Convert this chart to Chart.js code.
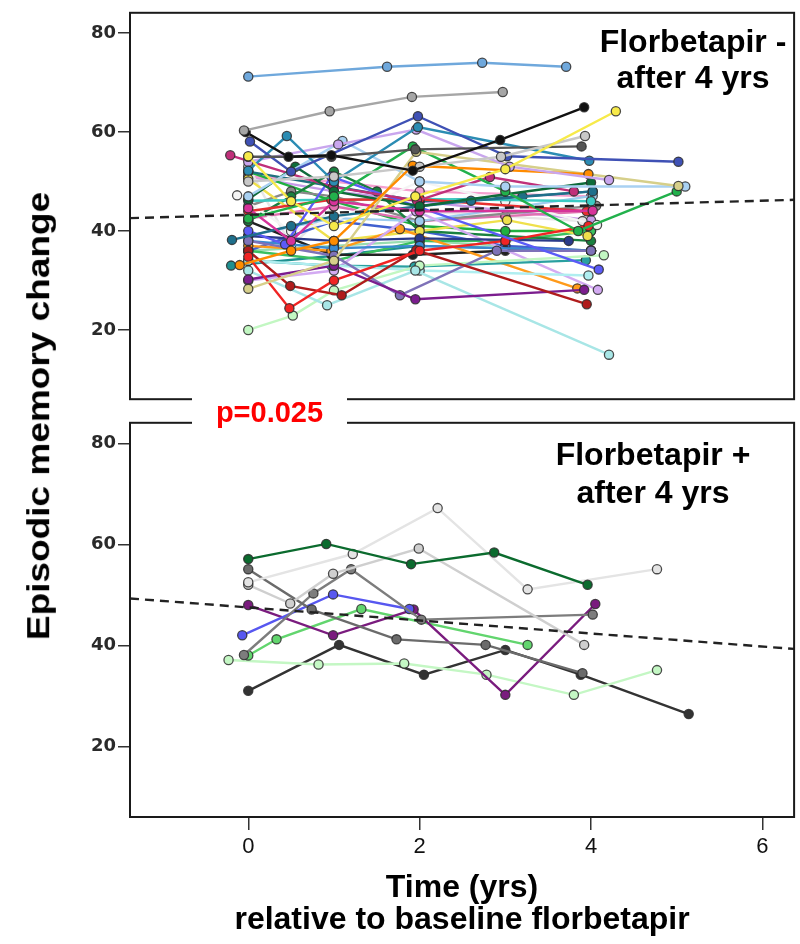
<!DOCTYPE html>
<html>
<head>
<meta charset="utf-8">
<script src="https://cdn.jsdelivr.net/npm/chart.js@4.4.1/dist/chart.umd.min.js"></script>
<style>
  body { margin: 0; background: #fff; width: 800px; height: 944px; position: relative; overflow: hidden; font-family: "Liberation Sans", Arial, sans-serif; }
  #top-wrap { position: absolute; left: 0; top: 0; width: 800px; height: 412px; }
  #bot-wrap { position: absolute; left: 0; top: 410px; width: 800px; height: 534px; }
  #y-title { position: absolute; left: 38px; top: 416px; transform: translate(-50%, -50%) rotate(-90deg) scaleY(0.87); white-space: nowrap; font: bold 37px "Liberation Sans", Arial, sans-serif; line-height: 1; color: #000; }
  #p-label { position: absolute; left: 192px; top: 398px; width: 155px; height: 28px; background: #fff; color: #ff0000; text-align: center; font: bold 29px "Liberation Sans", Arial, sans-serif; line-height: 28px; }
</style>
</head>
<body>
<div id="top-wrap"><canvas id="top-chart" width="800" height="412"></canvas></div>
<div id="bot-wrap"><canvas id="bot-chart" width="800" height="534"></canvas></div>
<div id="y-title">Episodic memory change</div>
<div id="p-label">p=0.025</div>
<script>
// Florbetapir negative: one entry per subject (years, score)
const negTimes = [
  [0, 1.62, 2.73, 3.71],
  [-0.05, 0.95, 1.91, 2.97],
  [-0.03, 0.47, 0.97, 1.92, 2.94, 3.92],
  [0, 0.5, 1.0, 1.95, 3.0, 4.29],
  [0, 1.0, 2.0, 2.95, 3.93],
  [0, 0.97, 1.95, 3.89],
  [0.02, 0.5, 1.98, 3.02, 5.02],
  [0, 0.45, 1.0, 1.98, 3.98],
  [0, 1.05, 1.96, 3.05, 4.21],
  [-0.1, 0.5, 1.0, 1.92, 3.97],
  [0, 1.0, 1.96, 5.02],
  [0, 1.1, 2.0, 3.0, 5.1],
  [0, 1.0, 1.92, 3.0, 3.85, 5.0],
  [0, 0.55, 1.0, 2.0, 4.0],
  [-0.21, 0.99, 1.97, 2.82, 3.8],
  [0, 0.5, 1.0, 2.0, 4.02],
  [-0.19, 0.5, 1.0, 2.0, 2.6, 4.02],
  [0, 0.43, 0.97, 4.09],
  [0, 0.48, 1.0, 2.0, 3.0, 3.97],
  [0, 0.49, 1.09, 1.96, 3.95],
  [0, 0.97, 2.0, 3.95],
  [0, 1.0, 1.95, 3.92],
  [0, 1.0, 1.77, 2.9, 4.0],
  [0, 0.92, 1.95, 4.21],
  [0, 0.52, 1.0, 2.0, 4.15],
  [0, 1.0, 2.0, 3.97],
  [0, 1.0, 2.0, 4.0],
  [0, 1.0, 2.0, 4.0],
  [0, 0.97, 1.94, 3.94],
  [0, 1.0, 2.0, 3.74],
  [-0.13, 0.5, 1.0, 2.0, 3.0, 4.07],
  [0, 1.0, 1.96, 4.08],
  [0, 0.97, 1.77, 3.84],
  [0, 1.0, 2.0, 3.02, 3.96],
  [0, 0.5, 1.0, 1.5, 2.0, 4.0],
  [0, 0.97, 1.92, 3.0, 4.0],
  [0, 1.0, 2.0, 3.0, 4.0],
  [0, 1.0, 2.0, 4.02],
  [0, 1.0, 2.0, 3.2, 4.02],
  [0, 1.0, 2.0, 3.0, 4.0],
  [0, 0.5, 1.0, 2.0, 4.06],
  [0, 1.0, 2.0, 3.0, 4.0],
  [0, 1.0, 2.0, 3.0, 4.0],
  [0, 0.5, 1.0, 2.0, 3.9],
  [0, 1.0, 2.0, 4.0],
  [-0.2, 1.0, 2.0, 4.0],
  [0, 1.0, 2.0, 3.0, 4.0],
  [0, 1.0, 2.0, 4.0]
];
const negScores = [
  [71.2, 73.2, 74, 73.2],
  [60.3, 64.2, 67.1, 68.1],
  [60, 55, 55.3, 52.2, 58.4, 65],
  [55.1, 46, 41, 47, 52.5, 64.2],
  [50, 51, 53, 55, 59.2],
  [55, 55, 56.5, 57.1],
  [58.1, 52, 63.2, 55.1, 54],
  [52.2, 59.2, 50, 61, 54.2],
  [54, 57.5, 60.5, 53, 50.3],
  [33.1, 36, 38, 53.2, 51.5],
  [28.3, 34, 56, 49.1],
  [47, 58.2, 50, 49, 49],
  [42.5, 47, 57.1, 48, 40, 48],
  [46.4, 53, 48, 45, 49.8],
  [55.3, 48.9, 46.1, 50.9, 48],
  [44.6, 38, 46, 44, 44.1],
  [38.2, 41, 43, 45, 46.1, 48],
  [40, 37.3, 51, 32.2],
  [34.8, 24.4, 30, 36, 38, 41],
  [36, 28.9, 27, 36.1, 25.2],
  [44, 46.3, 46.4, 44],
  [30.2, 33, 26.2, 28.1],
  [38, 35, 27, 36, 36],
  [32, 25, 32, 15],
  [20, 22.9, 28, 33, 35.1],
  [34, 33, 32, 31],
  [46.1, 46.3, 46.5, 46],
  [38, 36.5, 37, 36],
  [34, 33, 32.8, 34.1],
  [39, 38, 38.5, 38],
  [47.2, 40, 42, 50, 46, 41.2],
  [30, 32, 44, 28.1],
  [37, 36, 40.4, 28.4],
  [50.5, 38, 40, 42.2, 39],
  [42, 47, 52, 48, 40, 38],
  [42, 35.2, 35.2, 36, 36],
  [36, 34, 38, 38, 40],
  [39, 42.6, 42, 47.1],
  [52, 49, 46, 47, 48],
  [36, 42, 40, 37, 36],
  [45, 48, 47, 42, 45.1],
  [42.5, 45, 42, 43, 44],
  [52, 46, 41, 40, 40],
  [53, 37, 45, 44, 42],
  [51, 50, 48, 47],
  [33, 35, 37, 36],
  [36, 37, 38, 37, 36],
  [51, 48, 46, 42.2]
];
const negColors = [
  '#6fa8dc', '#a6a6a6', '#111111', '#f7ea4a', '#c8c8c8', '#555555', '#3f51b5', '#2b8cb3',
  '#c9a6ee', '#ff8c00', '#d6cf8a', '#a9d1f2', '#22b14c', '#0e6b3a', '#c0307a', '#d6339a',
  '#1f6f8b', '#5b5bf7', '#f02424', '#b01c1c', '#e53030', '#7b1d8e', '#7e72b8', '#a8e6e6',
  '#c2f7c2', '#b0eef0', '#3ccbc3', '#3a8ad0', '#2aa0a0', '#2a3a8a', '#f4f4f4', '#d3aaf2',
  '#ff9a1a', '#efe04c', '#1a8040', '#222222', '#3cc060', '#9ccbee', '#207080', '#4060d0',
  '#8a8a8a', '#e070b0', '#20b040', '#e6e6e6', '#f5a0d0', '#1f9090', '#98dcb0', '#c79ae8'
];

// Florbetapir positive
const posTimes = [
  [0, 0.91, 1.9, 2.87, 3.96],
  [0, 1.22, 2.21, 3.26, 4.77],
  [0, 0.49, 0.99, 1.99, 3.92],
  [0, 0.74, 1.73, 2.77, 3.9],
  [-0.05, 0.76, 1.2, 2.02, 4.02],
  [-0.07, 0.99, 1.88],
  [0, 0.99, 1.93, 3.0, 4.05],
  [0, 0.33, 1.32, 3.26],
  [-0.23, 0.82, 1.82, 2.78, 3.8, 4.77],
  [0, 1.06, 2.05, 3.0, 3.88, 5.14]
];
const posScores = [
  [57.1, 60.1, 56.1, 58.4, 52],
  [52.5, 58.1, 67.2, 51.1, 55.1],
  [52, 48.3, 54.2, 59.2, 40.1],
  [55.1, 47.1, 41.2, 40.1, 34.5],
  [38.1, 50.3, 55.1, 45.1, 46.1],
  [42, 50.1, 47.2],
  [48, 42, 47.1, 30.2, 48.2],
  [38, 41.2, 47.2, 40.1],
  [37.1, 36.2, 36.4, 34.2, 30.2, 35.1],
  [31, 40.1, 34.2, 39.1, 34.2, 26.4]
];
const posColors = ['#0b6b2e', '#e4e4e4', '#cfcfcf', '#6b6b6b', '#7d7d7d', '#5757f0', '#7a1c7e', '#62d56e', '#c4f7c4', '#333333'];

// fitted trend lines across the x range
const trendTimes = [-1.38, 6.37];
const negTrendScores = [42.6, 46.3];
const posTrendScores = [49.3, 39.3];

const yTicks = [20, 40, 60, 80];
const xTicks = [0, 2, 4, 6];
const xMin = -1.38, xMax = 6.37, yMin = 6, yMax = 84.1;

function buildSets(times, scores, colors, trend) {
  let sets = times.map((t, i) => ({
    data: t.map((x, j) => ({ x: x, y: scores[i][j] })),
    borderColor: colors[i],
    backgroundColor: colors[i],
    pointBackgroundColor: colors[i],
    pointBorderColor: 'rgba(45,45,45,0.85)',
    pointBorderWidth: 1.3,
    pointRadius: 4.6,
    borderWidth: 2.4,
    order: 1
  }));
  sets.push({
    data: trendTimes.map((x, j) => ({ x: x, y: trend[j] })),
    borderColor: '#222',
    borderWidth: 2.4,
    borderDash: [9, 6],
    pointRadius: 0,
    order: 0
  });
  return sets;
}

const panelBox = {
  id: 'panelBox',
  afterDraw(chart, args, opts) {
    let { ctx, chartArea: a } = chart;
    ctx.save();
    ctx.strokeStyle = '#1a1a1a';
    ctx.lineWidth = 2;
    ctx.strokeRect(a.left, a.top, a.right - a.left, a.bottom - a.top);
    ctx.fillStyle = '#000';
    ctx.font = 'bold 32px "Liberation Sans", Arial, sans-serif';
    ctx.textAlign = 'center';
    ctx.textBaseline = 'alphabetic';
    opts.lines.forEach((t, i) => ctx.fillText(t, opts.x, opts.y[i]));
    ctx.restore();
  }
};

function yScale() {
  return {
    type: 'linear', min: yMin, max: yMax,
    afterBuildTicks: s => { s.ticks = yTicks.map(v => ({ value: v })); },
    afterFit: s => { s.width = 130; },
    border: { display: false },
    grid: { drawOnChartArea: false, tickLength: 12, color: '#333', lineWidth: 1.5 },
    ticks: { padding: 2, color: '#2a2a2a', font: { family: 'DejaVu Sans', size: 18, weight: 'bold' } }
  };
}

Chart.defaults.animation = false;

new Chart(document.getElementById('top-chart'), {
  type: 'line',
  data: { datasets: buildSets(negTimes, negScores, negColors, negTrendScores) },
  options: {
    responsive: false,
    layout: { padding: { top: 6, bottom: 6, left: 0, right: 3 } },
    plugins: {
      legend: { display: false }, tooltip: { enabled: false },
      panelBox: { lines: ['Florbetapir -', 'after 4 yrs'], x: 693, y: [52, 88] }
    },
    scales: {
      x: { type: 'linear', min: xMin, max: xMax, display: false },
      y: yScale()
    }
  },
  plugins: [panelBox]
});

new Chart(document.getElementById('bot-chart'), {
  type: 'line',
  data: { datasets: buildSets(posTimes, posScores, posColors, posTrendScores) },
  options: {
    responsive: false,
    layout: { padding: { top: 7, bottom: 0, left: 0, right: 3 } },
    plugins: {
      legend: { display: false }, tooltip: { enabled: false },
      panelBox: { lines: ['Florbetapir +', 'after 4 yrs'], x: 653, y: [55, 93] }
    },
    scales: {
      x: {
        type: 'linear', min: xMin, max: xMax,
        afterBuildTicks: s => { s.ticks = xTicks.map(v => ({ value: v })); },
        afterFit: s => { s.height = 127; },
        border: { display: false },
        grid: { drawOnChartArea: false, tickLength: 13, color: '#333', lineWidth: 1.5 },
        ticks: { padding: 4, color: '#111', maxRotation: 0, font: { family: 'Liberation Sans', size: 22 } },
        title: {
          display: true, text: ['Time (yrs)', 'relative to baseline florbetapir'],
          color: '#000', padding: { top: 0, bottom: 8 },
          font: { family: 'Liberation Sans', size: 32, weight: 'bold', lineHeight: 1 }
        }
      },
      y: yScale()
    }
  },
  plugins: [panelBox]
});
</script>
</body>
</html>
